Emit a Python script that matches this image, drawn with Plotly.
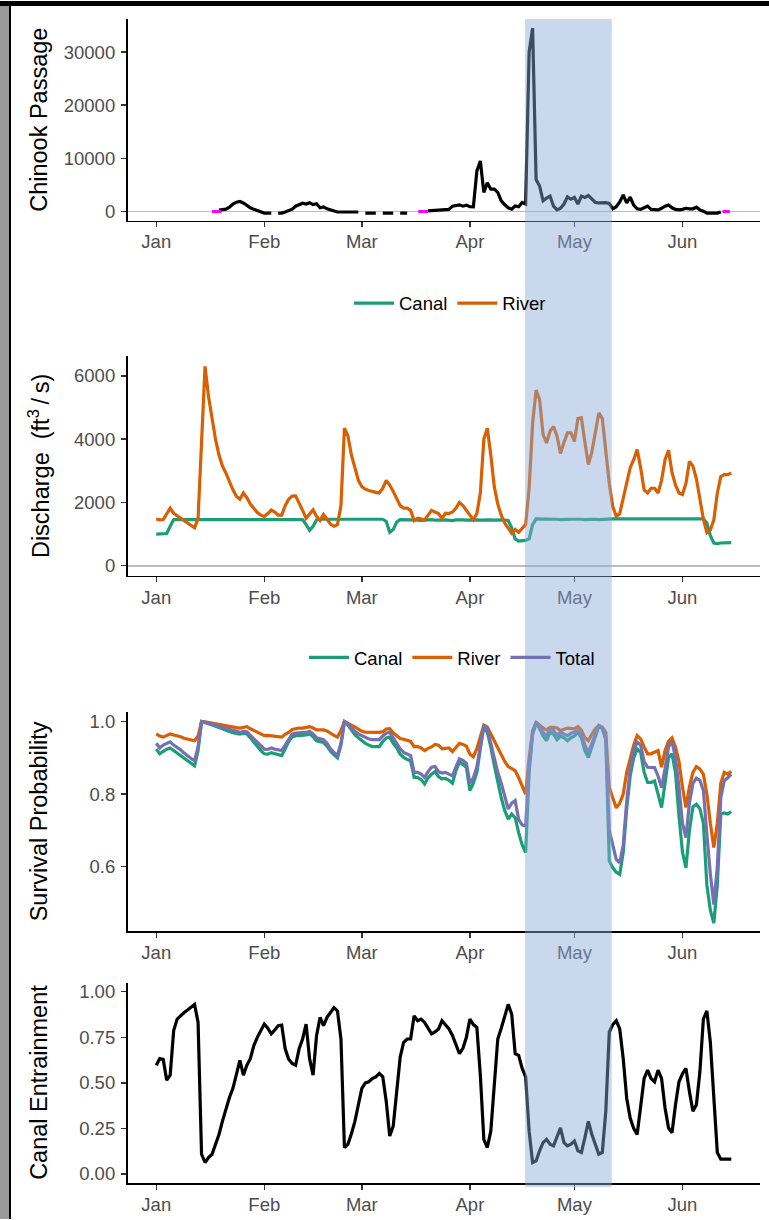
import plotly.graph_objects as go
import pandas as pd

# ---------------- data (daily, Jan 1 - Jun 15) ----------------
season_start = "2018-01-01"
n_days = 166
month_ticks = ["2018-01-01", "2018-02-01", "2018-03-01", "2018-04-01", "2018-05-01", "2018-06-01"]
month_labels = ["Jan", "Feb", "Mar", "Apr", "May", "Jun"]

chinook_passage = (
    [None] * 18 +
    [250, 350, 440, 800, 1400, 1750, 1880, 1600, 1100, 700, 400, 200,            # d18-29
     50, -300, -300, -300, None, -300, -300, -100, 200, 440,                     # d30-39
     1000, 1300, 1550, 1400, 1650, 1300, 1450, 700, 850, 500,                    # d40-49
     300, 200, -100, -100, -100, -100, -100, -100, -100, None,                   # d50-59
     -300, -300, -300, -300, None, -300, -300, -300, -300, None,                 # d60-69
     -300, -300, -300, None, -300, None, None, None, 100, 200,                   # d70-79
     250, 250, 300, 350, 400, 1000, 1200, 1250, 1000, 1200,                      # d80-89
     900, 880, 7600, 9500, 3600, 5400, 4200, 4200, 3600, 2000,                   # d90-99
     1250, 700, 440, 1050, 900, 1700, 1400, 30000, 34500, 6000,                  # d100-109
     4800, 2000, 2500, 2900, 1000, 300, 600, 1400, 2750, 2300,                   # d110-119
     2650, 1400, 2900, 2650, 3000, 2300, 1700, 1600, 1600, 1650,                 # d120-129
     1500, 500, 900, 1800, 3100, 1600, 2700, 1200, 500, 400,                     # d130-139
     700, 1000, 400, 300, 300, 600, 1000, 1200, 700, 400,                        # d140-149
     300, 400, 600, 500, 500, 800, 300, 50, -300, -300,                          # d150-159
     -300, -300, -100, None, None, None]                                         # d160-165
)
missing_start_day = [16.0, 75.2, 162.5]
missing_end_day = [18.6, 78.0, 164.6]

discharge_canal = (
    [1000, 1000, 1000, 1020, 1250] + [1460] * 37 +                               # d0-41
    [1460, 1300, 1120, 1250, 1450] + [1470] * 19 +                               # d42-65
    [1400, 1060, 1150, 1380, 1460,
     1450, 1440, 1450, 1460, 1440, 1430, 1440, 1450, 1460, 1440,                 # d71-80
     1430, 1440, 1450, 1440, 1430, 1450, 1460, 1450, 1440, 1450,                 # d81-90
     1460, 1450, 1440, 1450, 1460, 1450, 1440, 1450, 1450, 1440,                 # d91-100
     1430, 1200, 850, 780, 780, 800, 850, 1300, 1480] +                          # d101-109
    [1480, 1490, 1480, 1470, 1480, 1470, 1460, 1470, 1480, 1470,                 # d110-119
     1470, 1480, 1470, 1460, 1470, 1480, 1470, 1460, 1470, 1480] +               # d120-129
    [1480] * 28 +                                                                # d130-157
    [1350, 950, 720, 700, 720, 720, 730, 730]                                    # d158-165
)

discharge_river = [
    1480, 1450, 1460, 1650, 1820, 1660, 1580, 1500, 1420, 1340,
    1270, 1200, 1500, 3800, 6300, 5350, 4600, 4000, 3500, 3150,
    2930, 2650, 2400, 2200, 2100, 2300, 2150, 1950, 1800, 1680,
    1600, 1560, 1650, 1760, 1700, 1600, 1600, 1900, 2100, 2200,
    2210, 1950, 1750, 1500, 1650, 1770, 1560, 1430, 1620, 1450,
    1320, 1250, 1300, 1900, 4350, 4100, 3500, 3100, 2700, 2500,
    2420, 2380, 2340, 2320, 2300, 2450, 2700, 2550, 2350, 2100,
    1900, 1820, 1820, 1750, 1430, 1500, 1470, 1450, 1600, 1750,
    1700, 1650, 1500, 1660, 1650, 1700, 1820, 2000, 1900, 1750,
    1620, 1450, 1650, 2300, 4000, 4350, 3500, 2500, 1950, 1600,
    1350, 1200, 1030, 1150, 1060, 1180, 1300, 2450, 4500, 5550,
    5250, 4150, 3880, 4250, 4400, 4100, 3550, 3900, 4200, 4200,
    3930, 4650, 4680, 3900, 3200, 3600, 4150, 4830, 4650, 3550,
    2600, 1870, 1560, 1650, 2150, 2650, 3100, 3350, 3670, 3100,
    2400, 2300, 2450, 2450, 2300, 2700, 3350, 3650, 2950, 2550,
    2300, 2250, 2600, 3300, 3150, 2750, 2100, 1480, 1050, 1130,
    1450, 2300, 2820, 2880, 2880, 2930,
]

survival_canal = [
    0.924, 0.911, 0.918, 0.924, 0.927, 0.920, 0.915, 0.908, 0.900, 0.892,
    0.885, 0.878, 0.920, 1.000, 0.997, 0.994, 0.990, 0.987, 0.984, 0.980,
    0.976, 0.972, 0.969, 0.967, 0.965, 0.968, 0.966, 0.955, 0.943, 0.932,
    0.920, 0.911, 0.910, 0.914, 0.911, 0.908, 0.906, 0.925, 0.945, 0.957,
    0.961, 0.961, 0.961, 0.963, 0.966, 0.958, 0.947, 0.944, 0.942, 0.932,
    0.918, 0.908, 0.900, 0.935, 1.000, 0.990, 0.976, 0.964, 0.955, 0.947,
    0.940, 0.935, 0.931, 0.931, 0.931, 0.945, 0.955, 0.957, 0.940, 0.928,
    0.910, 0.901, 0.895, 0.892, 0.846, 0.846, 0.840, 0.828, 0.845, 0.855,
    0.862, 0.848, 0.842, 0.843, 0.838, 0.830, 0.865, 0.888, 0.882, 0.873,
    0.810, 0.830, 0.860, 0.925, 0.986, 0.970, 0.930, 0.880, 0.830, 0.790,
    0.755, 0.731, 0.745, 0.735, 0.694, 0.660, 0.639, 0.860, 0.965, 0.996,
    0.980, 0.960, 0.947, 0.970, 0.965, 0.950, 0.960, 0.955, 0.947, 0.955,
    0.960, 0.970, 0.955, 0.920, 0.901, 0.930, 0.965, 0.987, 0.980, 0.950,
    0.616, 0.597, 0.585, 0.579, 0.640, 0.760, 0.850, 0.900, 0.924, 0.915,
    0.860, 0.832, 0.832, 0.836, 0.800, 0.763, 0.830, 0.900, 0.911, 0.860,
    0.740, 0.640, 0.597, 0.700, 0.765, 0.772, 0.760, 0.720, 0.550, 0.480,
    0.445, 0.550, 0.745, 0.748, 0.745, 0.752,
]

survival_river = [
    0.966, 0.960, 0.957, 0.962, 0.966, 0.963, 0.961, 0.958, 0.954, 0.951,
    0.948, 0.947, 0.960, 1.000, 0.999, 0.997, 0.995, 0.994, 0.992, 0.990,
    0.988, 0.986, 0.984, 0.983, 0.982, 0.985, 0.986, 0.980, 0.975, 0.970,
    0.965, 0.961, 0.962, 0.961, 0.961, 0.958, 0.957, 0.965, 0.970, 0.978,
    0.981, 0.982, 0.982, 0.984, 0.986, 0.982, 0.977, 0.977, 0.977, 0.974,
    0.967, 0.962, 0.957, 0.975, 1.000, 0.996, 0.990, 0.985, 0.978, 0.973,
    0.971, 0.970, 0.970, 0.970, 0.970, 0.972, 0.979, 0.980, 0.969, 0.962,
    0.953, 0.951, 0.949, 0.945, 0.931, 0.931, 0.927, 0.920, 0.926, 0.930,
    0.937, 0.935, 0.925, 0.926, 0.927, 0.917, 0.930, 0.940, 0.937, 0.932,
    0.910, 0.903, 0.925, 0.960, 0.990, 0.985, 0.965, 0.945, 0.925, 0.908,
    0.890, 0.876, 0.871, 0.865, 0.845, 0.820, 0.800, 0.900, 0.975, 0.998,
    0.990, 0.982, 0.977, 0.984, 0.984, 0.982, 0.975, 0.979, 0.982, 0.981,
    0.980, 0.986, 0.976, 0.955, 0.947, 0.965, 0.980, 0.989, 0.985, 0.970,
    0.818, 0.790, 0.762, 0.775, 0.800, 0.860, 0.900, 0.935, 0.961, 0.952,
    0.930, 0.911, 0.911, 0.915, 0.920, 0.874, 0.920, 0.945, 0.955, 0.930,
    0.890, 0.820, 0.763, 0.820, 0.860, 0.876, 0.869, 0.855, 0.800, 0.720,
    0.653, 0.720, 0.830, 0.860, 0.855, 0.863,
]

survival_total = [
    0.940, 0.927, 0.935, 0.940, 0.944, 0.935, 0.929, 0.922, 0.913, 0.905,
    0.898, 0.892, 0.930, 1.000, 0.998, 0.995, 0.992, 0.990, 0.987, 0.984,
    0.980, 0.977, 0.974, 0.972, 0.970, 0.973, 0.972, 0.962, 0.952, 0.942,
    0.932, 0.924, 0.923, 0.927, 0.924, 0.921, 0.920, 0.935, 0.952, 0.965,
    0.968, 0.968, 0.968, 0.970, 0.973, 0.966, 0.955, 0.952, 0.950, 0.940,
    0.925, 0.915, 0.906, 0.940, 1.000, 0.993, 0.982, 0.973, 0.966, 0.961,
    0.956, 0.952, 0.950, 0.950, 0.950, 0.960, 0.968, 0.970, 0.955, 0.942,
    0.925, 0.915, 0.910, 0.906, 0.860, 0.860, 0.855, 0.846, 0.862, 0.874,
    0.876, 0.862, 0.858, 0.860, 0.855, 0.850, 0.875, 0.897, 0.893, 0.885,
    0.830, 0.845, 0.875, 0.930, 0.989, 0.980, 0.940, 0.900, 0.860, 0.830,
    0.795, 0.759, 0.775, 0.782, 0.730, 0.715, 0.712, 0.880, 0.970, 0.998,
    0.985, 0.970, 0.961, 0.978, 0.975, 0.963, 0.970, 0.965, 0.961, 0.967,
    0.970, 0.975, 0.963, 0.935, 0.915, 0.940, 0.970, 0.989, 0.982, 0.960,
    0.700, 0.662, 0.620, 0.611, 0.660, 0.780, 0.870, 0.920, 0.943, 0.935,
    0.890, 0.874, 0.874, 0.873, 0.850, 0.818, 0.870, 0.930, 0.945, 0.900,
    0.820, 0.720, 0.680, 0.775, 0.830, 0.844, 0.838, 0.810, 0.690, 0.580,
    0.496, 0.600, 0.790, 0.837, 0.845, 0.855,
]

canal_entrainment = [
    0.597, 0.633, 0.629, 0.515, 0.542, 0.787, 0.850, 0.870, 0.886, 0.900,
    0.913, 0.931, 0.832, 0.108, 0.063, 0.090, 0.108, 0.160, 0.217, 0.290,
    0.362, 0.420, 0.470, 0.552, 0.624, 0.542, 0.597, 0.633, 0.705, 0.750,
    0.790, 0.823, 0.800, 0.769, 0.790, 0.814, 0.817, 0.687, 0.630, 0.606,
    0.597, 0.687, 0.741, 0.823, 0.633, 0.542, 0.759, 0.859, 0.814, 0.860,
    0.886, 0.913, 0.895, 0.741, 0.145, 0.163, 0.220, 0.289, 0.380, 0.470,
    0.500, 0.506, 0.524, 0.533, 0.552, 0.533, 0.398, 0.208, 0.262, 0.452,
    0.642, 0.723, 0.741, 0.741, 0.868, 0.841, 0.850, 0.832, 0.800, 0.769,
    0.780, 0.796, 0.841, 0.820, 0.796, 0.760, 0.714, 0.660, 0.690, 0.750,
    0.850, 0.820, 0.805, 0.542, 0.190, 0.145, 0.235, 0.506, 0.741, 0.800,
    0.859, 0.931, 0.877, 0.660, 0.651, 0.579, 0.533, 0.235, 0.063, 0.072,
    0.127, 0.172, 0.190, 0.163, 0.154, 0.199, 0.253, 0.172, 0.154, 0.163,
    0.181, 0.127, 0.118, 0.199, 0.289, 0.217, 0.163, 0.108, 0.118, 0.344,
    0.778, 0.820, 0.841, 0.796, 0.633, 0.416, 0.307, 0.250, 0.217, 0.362,
    0.524, 0.570, 0.524, 0.506, 0.570, 0.524, 0.362, 0.253, 0.226, 0.380,
    0.506, 0.550, 0.579, 0.452, 0.344, 0.380, 0.561, 0.850, 0.895, 0.723,
    0.398, 0.118, 0.081, 0.081, 0.081, 0.081,
]

shade_start = "2018-04-16 20:00"
shade_end = "2018-05-11 17:00"

# ---------------- styling ----------------
W, H = 769, 1220
FONT = "Liberation Sans, Arial, sans-serif"
C_CANAL, C_RIVER, C_TOTAL = "#1B9E77", "#D95F02", "#7570B3"
LW = 3.2


def fx(p):
    return p / W


def fy(p):
    return 1 - p / H


dates = pd.date_range(season_start, periods=n_days, freq="D")
base = pd.Timestamp(season_start)
x_range = [base - pd.Timedelta(days=8.25), base + pd.Timedelta(days=173.25)]

fig = go.Figure()

# panel 1
fig.add_trace(go.Scatter(x=dates, y=chinook_passage, mode="lines", xaxis="x", yaxis="y",
                         line=dict(color="black", width=LW), showlegend=False))
mx, my = [], []
for s, e in zip(missing_start_day, missing_end_day):
    mx += [base + pd.Timedelta(days=s), base + pd.Timedelta(days=e), None]
    my += [0, 0, None]
fig.add_trace(go.Scatter(x=mx, y=my, mode="lines", xaxis="x", yaxis="y",
                         line=dict(color="#FF00FF", width=3), showlegend=False))

# panel 2
fig.add_trace(go.Scatter(x=dates, y=discharge_canal, mode="lines", name="Canal", xaxis="x2", yaxis="y2",
                         line=dict(color=C_CANAL, width=LW), legend="legend"))
fig.add_trace(go.Scatter(x=dates, y=discharge_river, mode="lines", name="River", xaxis="x2", yaxis="y2",
                         line=dict(color=C_RIVER, width=LW), legend="legend"))

# panel 3
for vals, nm, col in [(survival_canal, "Canal", C_CANAL), (survival_river, "River", C_RIVER),
                      (survival_total, "Total", C_TOTAL)]:
    fig.add_trace(go.Scatter(x=dates, y=vals, mode="lines", name=nm, xaxis="x3", yaxis="y3",
                             line=dict(color=col, width=LW), legend="legend2"))

# panel 4
fig.add_trace(go.Scatter(x=dates, y=canal_entrainment, mode="lines", xaxis="x4", yaxis="y4",
                         line=dict(color="black", width=LW), showlegend=False))

panels = [  # (top px, bottom px, y range, tickvals, tickformat, zeroline)
    (18, 220, [-1725, 36225], [0, 10000, 20000, 30000], "d", True),
    (356, 575.7, [-315, 6615], [0, 2000, 4000, 6000], "d", True),
    (711.7, 931.7, [0.4225, 1.0275], [0.6, 0.8, 1.0], ".1f", False),
    (983.3, 1184, [-0.05, 1.05], [0, 0.25, 0.5, 0.75, 1.0], ".2f", False),
]
titles = ["Chinook Passage", "Discharge\u00a0\u00a0(ft<sup>3</sup>\u2009/\u2009s)",
          "Survival Probability", "Canal Entrainment"]

axis_common = dict(showline=True, linecolor="black", linewidth=1.6, ticks="outside", ticklen=5,
                   tickwidth=1.4, tickcolor="#333333", showgrid=False,
                   tickfont=dict(family=FONT, size=18.5, color="#4D4D4D"), fixedrange=True)

annotations = []
for i, (top, bot, yr, tv, tf, zl) in enumerate(panels):
    sfx = "" if i == 0 else str(i + 1)
    fig.layout["xaxis" + sfx] = dict(domain=[fx(127.5), fx(760)], anchor="y" + sfx, range=x_range,
                                     tickvals=month_ticks, ticktext=month_labels, zeroline=False,
                                     ticklabelstandoff=-1, **axis_common)
    fig.layout["yaxis" + sfx] = dict(domain=[fy(bot), fy(top)], anchor="x" + sfx, range=yr,
                                     tickvals=tv, tickformat=tf, zeroline=zl,
                                     zerolinecolor="#BEBEBE", zerolinewidth=1.6,
                                     ticklabelstandoff=2, **axis_common)
    annotations.append(dict(text=titles[i], x=fx(39), y=fy((top + bot) / 2), xref="paper", yref="paper",
                            textangle=-90, showarrow=False, xanchor="center", yanchor="middle",
                            font=dict(family=FONT, size=23.5, color="black")))

shapes = [
    dict(type="rect", xref="x", yref="paper", x0=shade_start, x1=shade_end, y0=fy(1188), y1=fy(18),
         fillcolor="rgb(135,168,215)", opacity=0.45, line=dict(width=0), layer="above"),
    # slide frame
    dict(type="rect", xref="paper", yref="paper", x0=0, x1=fx(9), y0=0, y1=1,
         fillcolor="#9A9A9A", line=dict(width=0), layer="above"),
    dict(type="rect", xref="paper", yref="paper", x0=fx(9), x1=fx(11), y0=0, y1=fy(5),
         fillcolor="black", line=dict(width=0), layer="above"),
    dict(type="rect", xref="paper", yref="paper", x0=0, x1=1, y0=fy(5), y1=1,
         fillcolor="black", line=dict(width=0), layer="above"),
]

legend_common = dict(orientation="h", xanchor="center", yanchor="middle", bgcolor="rgba(0,0,0,0)",
                     font=dict(family=FONT, size=18.5, color="black"), itemwidth=40, borderwidth=0)

fig.update_layout(
    width=W, height=H, margin=dict(l=0, r=0, t=0, b=0, pad=0),
    paper_bgcolor="white", plot_bgcolor="white",
    font=dict(family=FONT),
    annotations=annotations, shapes=shapes,
    legend=dict(x=fx(450), y=fy(303), **legend_common),
    legend2=dict(x=fx(452), y=fy(658), **legend_common),
)

fig.write_html("out.html", config={"displayModeBar": False, "staticPlot": True},
               post_script="document.body.style.margin='0';document.body.style.overflow='hidden';")
